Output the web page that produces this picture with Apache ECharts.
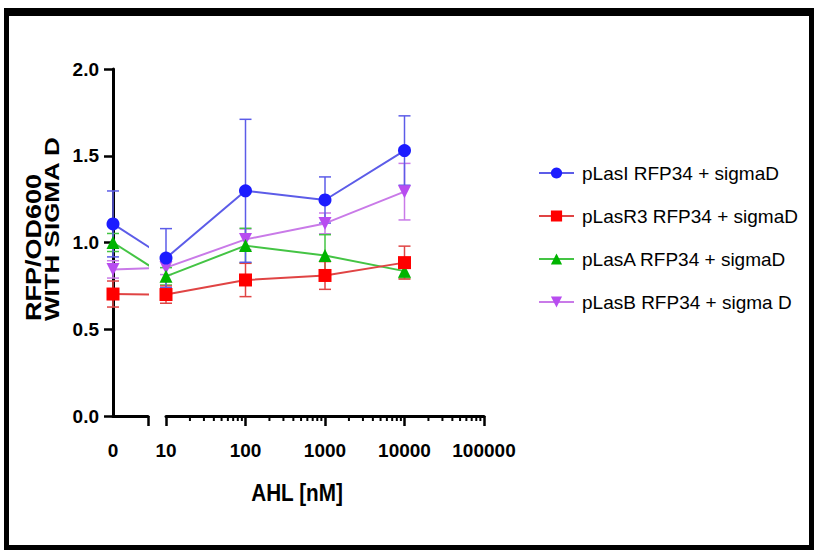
<!DOCTYPE html>
<html><head><meta charset="utf-8">
<script src="https://cdn.jsdelivr.net/npm/echarts@6/dist/echarts.min.js"></script>
<style>html,body{margin:0;padding:0;background:#fff}#c{width:814px;height:550px}</style>
</head><body><div id="c"></div>
<script>
// ---- data ----
const doses = [0, 10, 100, 1000, 10000];
const seriesNames = ['pLasI RFP34 + sigmaD', 'pLasR3 RFP34 + sigmaD', 'pLasA RFP34 + sigmaD', 'pLasB RFP34 + sigma D'];
const pLasI_mean  = [1.107, 0.910, 1.298, 1.245, 1.530];
const pLasI_sd    = [0.190, 0.170, 0.412, 0.133, 0.200];
const pLasR3_mean = [0.703, 0.700, 0.784, 0.810, 0.884];
const pLasR3_sd   = [0.075, 0.050, 0.096, 0.080, 0.095];
const pLasA_mean  = [1.000, 0.805, 0.982, 0.925, 0.835];
const pLasA_sd    = [0.052, 0.050, 0.100, 0.120, 0.040];
const pLasB_mean  = [0.845, 0.855, 1.018, 1.110, 1.293];
const pLasB_sd    = [0.050, 0.040, 0.060, 0.060, 0.163];
const xTickValues = [10, 100, 1000, 10000, 100000];
const xMinorTicks = [20,30,40,50,60,70,80,90, 200,300,400,500,600,700,800,900,
                     2000,3000,4000,5000,6000,7000,8000,9000, 20000,30000,40000,50000,60000,70000,80000,90000];
const yTicks = [0, 0.5, 1.0, 1.5, 2.0];
const xZeroLabel = [0];
const xTitle = 'AHL [nM]';
const yTitleLines = ['RFP/OD600', 'WITH SIGMA D'];

// ---- styles ----
const styles = [
  {marker: '#1c1cff', line: '#5c5ce8', symbol: 'circle', rotate: 0, size: 13},
  {marker: '#ff0000', line: '#e04444', symbol: 'rect', rotate: 0, size: 13},
  {marker: '#00b400', line: '#44c444', symbol: 'triangle', rotate: 0, size: 13},
  {marker: '#b84cf0', line: '#c97ae8', symbol: 'triangle', rotate: 180, size: 13}
];
const means = [pLasI_mean, pLasR3_mean, pLasA_mean, pLasB_mean];
const sds = [pLasI_sd, pLasR3_sd, pLasA_sd, pLasB_sd];

// layout (pixels)
const yAxisX = 113, seg1End = 148, seg2Start = 166, seg2End = 484, plotTop = 69, plotBottom = 416;
const seg1Max = doses[1] * (seg1End - yAxisX) / (seg2Start - yAxisX);
const FONT = '"Liberation Sans", Arial, Helvetica, sans-serif';

function errRender(color) {
  return function (params, api) {
    const x = api.value(0), m = api.value(1), sd = api.value(2);
    const top = api.coord([x, m + sd]);
    const bot = api.coord([x, m - sd]);
    const hw = 6;
    const st = {stroke: color, lineWidth: 1.5};
    return {type: 'group', children: [
      {type: 'line', shape: {x1: top[0], y1: top[1], x2: bot[0], y2: bot[1]}, style: st},
      {type: 'line', shape: {x1: top[0] - hw, y1: top[1], x2: top[0] + hw, y2: top[1]}, style: st},
      {type: 'line', shape: {x1: bot[0] - hw, y1: bot[1], x2: bot[0] + hw, y2: bot[1]}, style: st}
    ]};
  };
}

const series = [];
const order = [3, 2, 1, 0];
order.forEach(i => {
  const s = styles[i];
  const common = {
    type: 'line', name: seriesNames[i], symbol: s.symbol, symbolRotate: s.rotate,
    itemStyle: {color: s.marker}, lineStyle: {color: s.line, width: 2},
    clip: true, animation: false, z: 3
  };
  series.push(Object.assign({}, common, {
    xAxisIndex: 0, yAxisIndex: 0,
    data: [[doses[0], means[i][0]], [doses[1], means[i][1]]],
    symbolSize: (v) => v[0] === doses[0] ? s.size : 0
  }));
  series.push(Object.assign({}, common, {
    xAxisIndex: 1, yAxisIndex: 1, symbolSize: s.size,
    data: doses.slice(1).map((d, k) => [d, means[i][k + 1]])
  }));
});
order.forEach(i => {
  const s = styles[i];
  series.push({
    type: 'custom', name: seriesNames[i] + ' SD', xAxisIndex: 0, yAxisIndex: 0, clip: false, z: 2,
    renderItem: errRender(s.line), encode: {x: 0, y: 1},
    data: [[doses[0], means[i][0], sds[i][0]]], animation: false
  });
  series.push({
    type: 'custom', name: seriesNames[i] + ' SD2', xAxisIndex: 1, yAxisIndex: 1, clip: false, z: 2,
    renderItem: errRender(s.line), encode: {x: 0, y: 1},
    data: doses.slice(1).map((d, k) => [d, means[i][k + 1], sds[i][k + 1]]), animation: false
  });
});
series.push({
  type: 'custom', name: 'minorTicks', xAxisIndex: 1, yAxisIndex: 1, clip: false, silent: true,
  encode: {x: 0, y: 1}, data: xMinorTicks.map(v => [v, 0]), animation: false,
  renderItem: function (params, api) {
    const p = api.coord([api.value(0), 0]);
    return {type: 'line', shape: {x1: p[0], y1: p[1], x2: p[0], y2: p[1] + 5}, style: {stroke: '#000', lineWidth: 2}};
  }
});

const axisLabelStyle = {color: '#000', fontFamily: FONT, fontWeight: 'bold', fontSize: 19};

const option = {
  backgroundColor: '#fff',
  animation: false,
  grid: [
    {left: yAxisX, top: plotTop, width: seg1End - yAxisX, height: plotBottom - plotTop, outerBoundsMode: 'none'},
    {left: seg2Start, top: plotTop, width: seg2End - seg2Start, height: plotBottom - plotTop, outerBoundsMode: 'none'}
  ],
  xAxis: [
    {
      type: 'value', gridIndex: 0, min: 0, max: seg1Max,
      axisLine: {show: true, onZero: false, lineStyle: {color: '#000', width: 3}},
      axisTick: {show: true, customValues: [seg1Max], length: 10, lineStyle: {color: '#000', width: 2.5}},
      axisLabel: Object.assign({show: true, customValues: xZeroLabel, margin: 25, formatter: v => String(v)}, axisLabelStyle),
      splitLine: {show: false}
    },
    {
      type: 'log', logBase: 10, gridIndex: 1, min: xTickValues[0], max: xTickValues[xTickValues.length - 1],
      axisLine: {show: true, onZero: false, lineStyle: {color: '#000', width: 3}},
      axisTick: {show: true, customValues: xTickValues, length: 10, lineStyle: {color: '#000', width: 2.5}},
      axisLabel: Object.assign({show: true, customValues: xTickValues, margin: 25,
        formatter: v => String(Math.round(v))}, axisLabelStyle),
      minorTick: {show: false},
      splitLine: {show: false}
    }
  ],
  yAxis: [
    {
      type: 'value', gridIndex: 0, min: yTicks[0], max: yTicks[yTicks.length - 1], interval: 0.5,
      axisLine: {show: true, onZero: false, lineStyle: {color: '#000', width: 3}},
      axisTick: {show: true, length: 9, lineStyle: {color: '#000', width: 2.5}},
      axisLabel: Object.assign({margin: 14, formatter: v => v.toFixed(1)}, axisLabelStyle),
      splitLine: {show: false}
    },
    {
      type: 'value', gridIndex: 1, min: yTicks[0], max: yTicks[yTicks.length - 1], interval: 0.5, show: false
    }
  ],
  legend: {
    data: seriesNames, orient: 'vertical', left: 533, top: 157,
    itemWidth: 35, itemHeight: 14, itemGap: 21,
    textStyle: {color: '#000', fontFamily: FONT, fontSize: 19, lineHeight: 22, padding: [0, 0, 0, 3]},
    selectedMode: false
  },
  graphic: [
    {type: 'rect', shape: {x: 4, y: 8, width: 810, height: 8}, style: {fill: '#000'}, silent: true},
    {type: 'rect', shape: {x: 4, y: 8, width: 5, height: 542}, style: {fill: '#000'}, silent: true},
    {type: 'rect', shape: {x: 809, y: 8, width: 5, height: 542}, style: {fill: '#000'}, silent: true},
    {type: 'rect', shape: {x: 4, y: 545, width: 810, height: 5}, style: {fill: '#000'}, silent: true},
    {type: 'text', x: 297, y: 493, scaleX: 0.9, style: {text: xTitle, font: 'bold 23px ' + FONT, fill: '#000', align: 'center', verticalAlign: 'middle'}},
    {type: 'text', x: 33, y: 321, rotation: Math.PI / 2, scaleY: 0.8, style: {text: yTitleLines[0], font: 'bold 27px ' + FONT, fill: '#000', align: 'left', verticalAlign: 'middle'}},
    {type: 'text', x: 52, y: 321, rotation: Math.PI / 2, scaleY: 0.8, style: {text: yTitleLines[1], font: 'bold 26px ' + FONT, fill: '#000', align: 'left', verticalAlign: 'middle'}}
  ],
  series: series
};

const chart = echarts.init(document.getElementById('c'), null, {renderer: 'svg'});
chart.setOption(option);
</script>
</body></html>
